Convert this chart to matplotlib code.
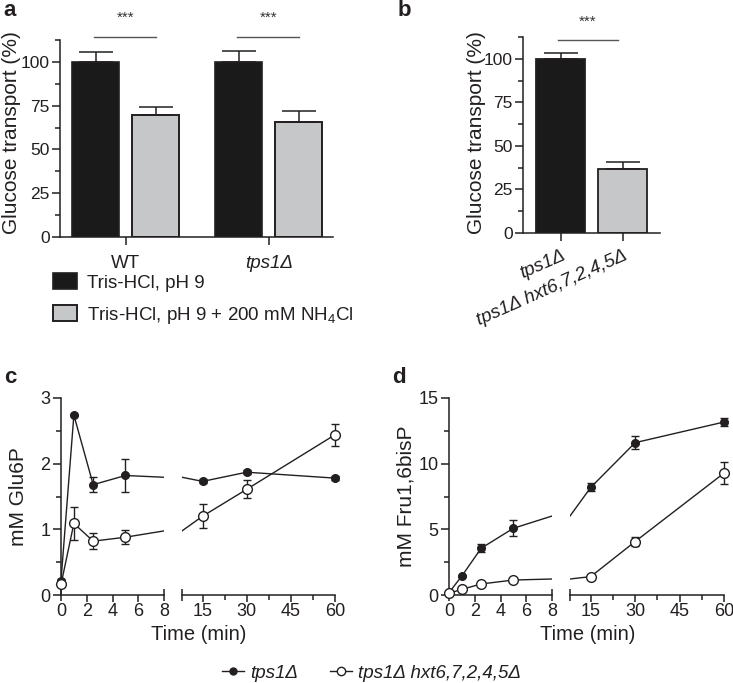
import numpy as np
import matplotlib
matplotlib.use("Agg")
import matplotlib.pyplot as plt
from matplotlib.patches import Patch
from matplotlib.lines import Line2D

plt.rcParams['font.family'] = ['Liberation Sans', 'DejaVu Sans']
plt.rcParams['mathtext.fontset'] = 'custom'
plt.rcParams['mathtext.rm'] = 'Liberation Sans'
plt.rcParams['mathtext.it'] = 'Liberation Sans:italic'

# panel a
a_groups = ['WT', 'tps1Δ']
a_tris = [100, 100]
a_tris_err = [5.5, 6.5]
a_nh4 = [69.5, 65.5]
a_nh4_err = [4.5, 6.5]

# panel b
b_strains = ['tps1Δ', 'tps1Δ hxt6,7,2,4,5Δ']
b_vals = [100, 36.5]
b_err = [3.2, 4.0]

# panels c, d (time in min)
t = [0, 1, 2.5, 5, 15, 30, 60]
c_tps1 = [0.22, 2.74, 1.68, 1.82, 1.73, 1.87, 1.78]
c_tps1_err = [0.02, 0.02, 0.11, 0.25, 0.03, 0.03, 0.03]
c_hxt = [0.16, 1.09, 0.82, 0.88, 1.20, 1.61, 2.44]
c_hxt_err = [0.03, 0.25, 0.12, 0.11, 0.18, 0.14, 0.165]
d_tps1 = [0.18, 1.45, 3.56, 5.08, 8.19, 11.6, 13.17]
d_tps1_err = [0.1, 0.1, 0.3, 0.6, 0.3, 0.5, 0.3]
d_hxt = [0.13, 0.43, 0.84, 1.14, 1.40, 4.07, 9.28]
d_hxt_err = [0.05, 0.1, 0.1, 0.1, 0.1, 0.35, 0.86]

W, H = 733, 683
fig = plt.figure(figsize=(W / 100, H / 100), dpi=100)
INK = '#231f20'
GREY = '#c6c7c8'


def px_axes(x0, y0, x1, y1):
    return fig.add_axes([x0 / W, 1 - y1 / H, (x1 - x0) / W, (y1 - y0) / H])


def style(ax, left=True, tsize=13):
    for s in ['top', 'right']:
        ax.spines[s].set_visible(False)
    for s in ['left', 'bottom']:
        ax.spines[s].set_linewidth(1.1)
        ax.spines[s].set_color(INK)
    if not left:
        ax.spines['left'].set_visible(False)
        ax.tick_params(axis='y', left=False, labelleft=False, which='both')
    ax.tick_params(which='major', length=6, width=1.1, color=INK, labelsize=tsize,
                   labelcolor=INK, pad=1.5)
    ax.tick_params(which='minor', length=3.5, width=1.1, color=INK)


def set_ylabel_px(ax, text, x_px, x0_px, w_px, yfrac=0.5, size=15):
    # x_px is the right edge of the rotated label
    ax.set_ylabel(text, fontsize=size, color=INK)
    ax.yaxis.set_label_coords((x_px - x0_px) / w_px, yfrac)


# ---- panel a ----
ax = px_axes(60, 40, 333, 237)
style(ax, tsize=12.5)
x = np.arange(len(a_groups))
off, bw = 0.21, 0.33
ax.bar(x - off, a_tris, bw, color='#1a1a1a', edgecolor=INK, lw=1.2,
       yerr=[[0, 0], a_tris_err], capsize=12, error_kw=dict(lw=1.1, capthick=1.1, ecolor=INK))
ax.bar(x + off, a_nh4, bw, color=GREY, edgecolor=INK, lw=1.4,
       yerr=[[0, 0], a_nh4_err], capsize=12, error_kw=dict(lw=1.1, capthick=1.1, ecolor=INK))
ax.set_xlim(-0.46, 1.45)
ax.set_ylim(0, 112.5)
ax.set_yticks([0, 25, 50, 75, 100])
ax.set_yticks(np.arange(12.5, 113, 25), minor=True)
ax.set_xticks(x)
ax.set_xticklabels(a_groups, fontsize=13.5)
ax.tick_params(axis='x', pad=7)
ax.get_xticklabels()[1].set_style('italic')
set_ylabel_px(ax, 'Glucose transport (%)', 21, 60, 273, yfrac=(237 - 133) / 197)
for xi in x:
    ax.plot([xi - 0.22, xi + 0.21], [114, 114], color='#555555', lw=1.0, clip_on=False)
    ax.text(xi, 121, '***', ha='center', va='bottom', fontsize=11, color='#333333', clip_on=False)

fig.legend([Patch(facecolor='#1a1a1a', edgecolor=INK, lw=1.2),
            Patch(facecolor=GREY, edgecolor=INK, lw=1.4)],
           ['Tris-HCl, pH 9', 'Tris-HCl, pH 9 + 200 mM NH$_4$Cl'],
           loc='upper left', bbox_to_anchor=(53 / W, 1 - 273 / H), frameon=False,
           fontsize=13.5, handlelength=1.3, handleheight=0.95, handletextpad=0.5,
           labelspacing=0.7, borderpad=0, borderaxespad=0, labelcolor=INK)

# ---- panel b ----
ax = px_axes(523, 37, 660, 233)
style(ax, tsize=12.5)
xb = np.arange(len(b_strains))
ax.bar(xb, b_vals, 0.79, color=['#1a1a1a', GREY], edgecolor=INK, lw=1.3,
       yerr=[[0, 0], b_err], capsize=12, error_kw=dict(lw=1.1, capthick=1.1, ecolor=INK))
ax.set_xlim(-0.61, 1.6)
ax.set_ylim(0, 112.5)
ax.set_yticks([0, 25, 50, 75, 100])
ax.set_yticks(np.arange(12.5, 113, 25), minor=True)
ax.set_xticks(xb)
ax.set_xticklabels(b_strains, fontsize=13.5, style='italic', rotation=24, ha='right',
                   rotation_mode='anchor')
ax.tick_params(axis='x', pad=4)
set_ylabel_px(ax, 'Glucose transport (%)', 486, 523, 137, yfrac=(233 - 133) / 196)
ax.plot([-0.05, 0.92], [111, 111], color='#555555', lw=1.0, clip_on=False)
ax.text(0.44, 117, '***', ha='center', va='bottom', fontsize=11, color='#333333', clip_on=False)


# ---- panels c, d (broken x axis) ----
def series(ax, lo, hi, y, err, face, ms):
    ax.plot(t, y, color=INK, lw=1.0, zorder=2)
    sel = [i for i, ti in enumerate(t) if lo <= ti <= hi]
    ts = [t[i] for i in sel]
    ys = [y[i] for i in sel]
    es = [err[i] for i in sel]
    cont = ax.errorbar(ts, ys, yerr=es, fmt='o', color=INK, mfc=face, mec=INK, mew=1.0,
                       ms=ms, capsize=3, elinewidth=1.0, capthick=1.0, zorder=3)
    for art in cont.get_children():
        art.set_clip_on(False)


def time_panel(xl, xm, xr, ytop, ybot, yc, yc_err, yh, yh_err, ymax, ymaj, ymin, ylabel, ylab_x):
    axl = px_axes(xl, ytop, xm, ybot)
    axr = px_axes(xm + 18, ytop, xr, ybot)
    style(axl)
    style(axr, left=False)
    axl.set_xlim(0, 8)
    axr.set_xlim(8, 60)
    for a_ in (axl, axr):
        a_.set_ylim(0, ymax)
        a_.patch.set_alpha(0)
        a_.tick_params(axis='x', which='major', length=5, pad=1)
    axl.set_xticks([0, 2, 4, 6, 8])
    axr.set_xticks([8, 15, 30, 45, 60])
    axr.set_xticklabels(['', '15', '30', '45', '60'])
    axr.set_xticks([22.5, 37.5, 52.5], minor=True)
    axl.set_yticks(ymaj)
    axl.set_yticks(ymin, minor=True)
    # end marks of the broken axis
    for tl in (axl.get_xticklines()[0], axl.get_xticklines()[-2], axr.get_xticklines()[0]):
        tl.set_marker('|')
        tl.set_markersize(9)
    set_ylabel_px(axl, ylabel, ylab_x, xl, xm - xl)
    for a_, lo, hi in ((axl, 0, 8), (axr, 8, 60)):
        series(a_, lo, hi, yc, yc_err, INK, 5.5)
        series(a_, lo, hi, yh, yh_err, 'white', 7)
    cx = (xl + xr) / 2 + 1
    fig.text(cx / W, 1 - 640 / H, 'Time (min)', fontsize=14.5, color=INK,
             ha='center', va='baseline')
    return axl, axr


time_panel(61, 164, 335, 398, 595, c_tps1, c_tps1_err, c_hxt, c_hxt_err,
           3, [0, 1, 2, 3], [0.5, 1.5, 2.5], 'mM Glu6P', 28)
time_panel(449, 552, 724, 398, 595, d_tps1, d_tps1_err, d_hxt, d_hxt_err,
           15, [0, 5, 10, 15], [2.5, 7.5, 12.5], 'mM Fru1,6bisP', 416)

# bottom legend
fig.legend([Line2D([], [], color=INK, lw=1.0, marker='o', mfc=INK, mec=INK, ms=5),
            Line2D([], [], color=INK, lw=1.0, marker='o', mfc='white', mec=INK, ms=6)],
           ['tps1Δ', 'tps1Δ hxt6,7,2,4,5Δ'], ncol=2, loc='center left',
           bbox_to_anchor=(222 / W, 1 - 673 / H), frameon=False,
           prop={'style': 'italic', 'size': 13.5}, handlelength=1.15, handletextpad=0.35,
           columnspacing=1.7, borderpad=0, borderaxespad=0, labelcolor=INK)

# panel letters
for lbl, px, py in (('a', 3, 0), ('b', 398, 0), ('c', 4, 367), ('d', 392, 367)):
    fig.text(px / W, 1 - py / H, lbl, fontsize=16, fontweight='bold', color=INK,
             ha='left', va='top')

fig.savefig('out.png', dpi=100)
